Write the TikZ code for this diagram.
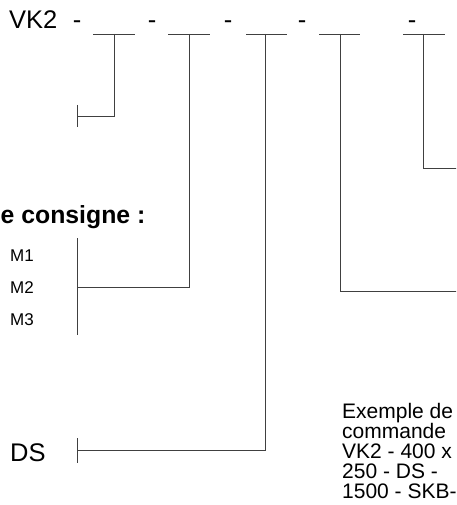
\documentclass[tikz,border=0pt]{standalone}
\usepackage{fontspec}
\setmainfont{Liberation Sans}
\tikzset{
  x=1pt, y=-1pt,
  lead/.style={draw=black!75, line width=0.8pt},
  big/.style={inner sep=0pt, font=\fontsize{25.5}{30}\selectfont},
  head/.style={inner sep=0pt, font=\fontsize{24.8}{30}\selectfont\bfseries},
  small/.style={inner sep=0pt, font=\fontsize{17}{20}\selectfont},
  note/.style={inner sep=0pt, font=\fontsize{21}{22}\selectfont},
}
\begin{document}
\begin{tikzpicture}
\clip (0,0) rectangle (456,505);
\fill[white] (0,0) rectangle (456,505);
% title line
\node[big, anchor=base west] (vk) at (9,29) {VK2};
\node[big, anchor=base] (h1) at (77,29) {-};
\node[big, anchor=base] (h2) at (152,29) {-};
\node[big, anchor=base] (h3) at (228,29) {-};
\node[big, anchor=base] (h4) at (302,29) {-};
\node[big, anchor=base] (h5) at (412,29) {-};
% slots
\coordinate (s1l) at (93,34);  \coordinate (s1r) at (135,34); \coordinate (s1) at (114,34);
\coordinate (s2l) at (168,34); \coordinate (s2r) at (210,34); \coordinate (s2) at (189,34);
\coordinate (s3l) at (246,34); \coordinate (s3r) at (287,34); \coordinate (s3) at (265,34);
\coordinate (s4l) at (319,34); \coordinate (s4r) at (360,34); \coordinate (s4) at (340,34);
\coordinate (s5l) at (403,34); \coordinate (s5r) at (445,34); \coordinate (s5) at (423,34);
\foreach \i in {1,...,5}{\draw[lead] (s\i l) -- (s\i r);}
% leader 1
\coordinate (t1a) at (77,105); \coordinate (t1b) at (77,127); \coordinate (t1) at (77,116);
\draw[lead] (s1) |- (t1);
\draw[lead] (t1a) -- (t1b);
% leader 2 : consigne
\node[head, anchor=base west] (cons) at (0.5,223) {e consigne :};
\node[small, anchor=base west] (m1) at (10,261) {M1};
\node[small, anchor=base west] (m2) at (10,293) {M2};
\node[small, anchor=base west] (m3) at (10,325) {M3};
\coordinate (t2a) at (77,238); \coordinate (t2b) at (77,335); \coordinate (t2) at (77,287);
\draw[lead] (s2) |- (t2);
\draw[lead] (t2a) -- (t2b);
% leader 3 : DS
\node[big, anchor=base west] (ds) at (10,461) {DS};
\coordinate (t3a) at (77,438); \coordinate (t3b) at (77,463); \coordinate (t3) at (77,450);
\draw[lead] (s3) |- (t3);
\draw[lead] (t3a) -- (t3b);
% leaders 4 and 5
\coordinate (e4) at (457,291);
\coordinate (e5) at (457,168);
\draw[lead] (s4) |- (e4);
\draw[lead] (s5) |- (e5);
% example
\node[note, anchor=base west] (ex1) at (342,418) {Exemple de};
\node[note, anchor=base west] (ex2) at (342,438) {commande};
\node[note, anchor=base west] (ex3) at (342,458) {VK2 - 400 x};
\node[note, anchor=base west] (ex4) at (342,478) {250 - DS -};
\node[note, anchor=base west] (ex5) at (342,498) {1500 - SKB-};
\end{tikzpicture}
\end{document}
